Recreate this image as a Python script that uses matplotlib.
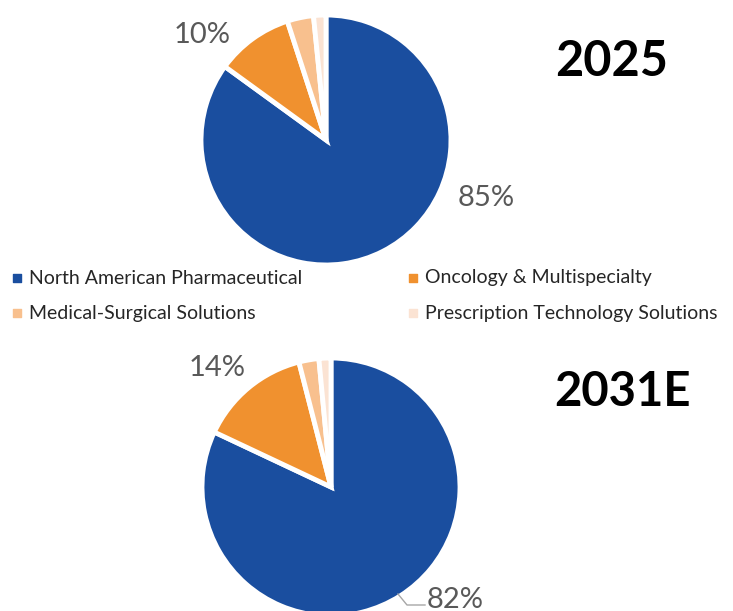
import matplotlib.pyplot as plt

segments = ["North American Pharmaceutical", "Oncology & Multispecialty",
            "Medical-Surgical Solutions", "Prescription Technology Solutions"]
share_2025 = [85, 10, 3.4, 1.6]
share_2031 = [82, 14, 2.5, 1.5]
colors = ["#1A4E9F", "#F0912F", "#F8C08E", "#FBE3D3"]

plt.rcParams['font.family'] = ['Lato', 'DejaVu Sans']

H = 611
fig = plt.figure(figsize=(7.33, 6.11), dpi=100)
# one axes in pixel units over the whole canvas
ax = fig.add_axes([0, 0, 1, 1])


def py(y):
    # pixel row from the top -> axes y
    return H - y


wp = dict(edgecolor='white', linewidth=3.5)

# 2025 pie
ax.pie(share_2025, colors=colors, startangle=90, counterclock=False,
       center=(326, py(140)), radius=125, wedgeprops=wp, frame=True)
# 2031E pie
ax.pie(share_2031, colors=colors, startangle=90, counterclock=False,
       center=(331, py(487)), radius=129, wedgeprops=wp, frame=True)
ax.set_xlim(0, 733)
ax.set_ylim(0, H)
ax.set_aspect('equal')
ax.axis('off')

lbl = dict(fontsize=21, color='#595959', ha='center', va='center')
ax.text(486, py(198), f"{share_2025[0]}%", **lbl)
ax.text(202, py(35), f"{share_2025[1]}%", **lbl)
ax.text(217, py(368), f"{share_2031[1]}%", **lbl)
ax.text(455, py(600), f"{share_2031[0]}%", **lbl)
# leader line for the bottom label
ax.plot([398, 407, 425], [py(594), py(605), py(605)], color='#A6A6A6', lw=1)

ax.text(612, py(61), "2025", fontsize=35, fontweight='bold', ha='center', va='center')
ax.text(622, py(392), "2031E", fontsize=34, fontweight='bold', ha='center', va='center')

# legend in two columns
leg_pos = [(17, 278), (413, 278), (17, 313), (413, 313)]
for (x, y), name, c in zip(leg_pos, segments, colors):
    ax.scatter([x], [py(y)], marker='s', s=30, color=c)
    ax.text(x + 12, py(y), name, fontsize=14, color='#262626', ha='left', va='center')

fig.savefig('out.png', dpi=100)
